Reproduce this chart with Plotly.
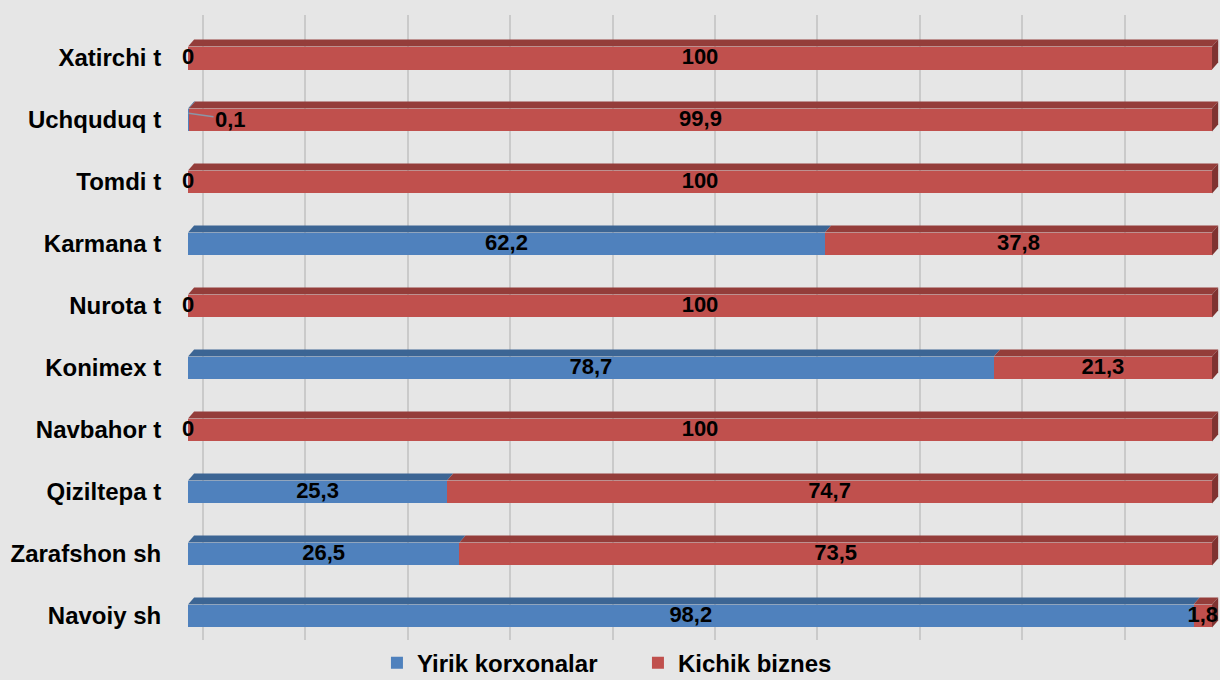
import plotly.graph_objects as go

categories = ["Navoiy sh", "Zarafshon sh", "Qiziltepa t", "Navbahor t", "Konimex t",
              "Nurota t", "Karmana t", "Tomdi t", "Uchquduq t", "Xatirchi t"]
yirik = [98.2, 26.5, 25.3, 0, 78.7, 0, 62.2, 0, 0.1, 0]
kichik = [1.8, 73.5, 74.7, 100, 21.3, 100, 37.8, 100, 99.9, 100]
series_names = ["Yirik korxonalar", "Kichik biznes"]

BLUE, BLUE_TOP = "#4F81BD", "#3C6594"
RED, RED_TOP = "#C0504D", "#943D3A"
BG = "#e6e6e6"
FONT = "Liberation Sans"

ypos = list(range(len(categories)))
H = 0.185      # half front-face height (y units)
D = 0.113      # depth (y units)
DX = 0.6       # depth (x units)


def fmt(v):
    return f"{v:g}".replace(".", ",")


fig = go.Figure()
fig.add_trace(go.Bar(y=ypos, x=yirik, orientation="h", name=series_names[0],
                     marker=dict(color=BLUE, line=dict(width=0)), width=2 * H,
                     hoverinfo="skip"))
fig.add_trace(go.Bar(y=ypos, x=kichik, orientation="h", name=series_names[1],
                     marker=dict(color=RED, line=dict(width=0)), width=2 * H,
                     hoverinfo="skip"))
# invisible trace for the shifted back-wall grid axis
fig.add_trace(go.Scatter(x=[0], y=[0], xaxis="x2", mode="markers",
                         marker=dict(opacity=0), showlegend=False, hoverinfo="skip"))

# 3D top faces and end caps
shapes = []
for i, (b, r) in enumerate(zip(yirik, kichik)):
    y = ypos[i]
    segs = [(0, b, BLUE_TOP), (b, b + r, RED_TOP)]
    for x0, x1, c in segs:
        if x1 - x0 <= 0:
            continue
        path = (f"M {x0},{y + H} L {x1},{y + H} L {x1 + DX},{y + H + D} "
                f"L {x0 + DX},{y + H + D} Z")
        shapes.append(dict(type="path", path=path, xref="x", yref="y",
                           fillcolor=c, line=dict(width=0), layer="between"))
    xe = b + r
    endc = "#7f3331" if r > 0 else "#2f5078"
    path = (f"M {xe},{y - H} L {xe + DX},{y - H + D} L {xe + DX},{y + H + D} "
            f"L {xe},{y + H} Z")
    shapes.append(dict(type="path", path=path, xref="x", yref="y",
                       fillcolor=endc, line=dict(width=0), layer="between"))

# data labels
lx, ly, lt = [], [], []
annotations = []
for i, (b, r) in enumerate(zip(yirik, kichik)):
    if b == 0:
        lx.append(0); ly.append(ypos[i]); lt.append(fmt(b))
    elif b < 1:
        annotations.append(dict(x=b / 2, y=ypos[i] + H * 0.6, xref="x", yref="y",
                                text=fmt(b), showarrow=True, arrowhead=0,
                                arrowcolor="#8a96a8", arrowwidth=1.5,
                                ax=42, ay=6,
                                font=dict(family=FONT, size=22, color="black",
                                          weight="bold")))
    else:
        lx.append(b / 2); ly.append(ypos[i]); lt.append(fmt(b))
    lx.append(b + r / 2); ly.append(ypos[i]); lt.append(fmt(r))

fig.add_trace(go.Scatter(x=lx, y=ly, text=lt, mode="text", textposition="middle center",
                         textfont=dict(family=FONT, size=22, color="black", weight="bold"),
                         cliponaxis=False, showlegend=False, hoverinfo="skip"))

XMAX = 100.78
SHIFT = 1.46
fig.update_layout(
    width=1220, height=680,
    barmode="stack",
    paper_bgcolor=BG, plot_bgcolor=BG,
    margin=dict(l=188, r=0, t=15, b=40, autoexpand=False),
    font=dict(family=FONT, color="black"),
    xaxis=dict(range=[0, XMAX], showgrid=False, zeroline=False, showticklabels=False,
               showline=False, fixedrange=True),
    xaxis2=dict(overlaying="x", anchor="y", range=[-SHIFT, XMAX - SHIFT],
                showgrid=True, gridcolor="#cacaca", gridwidth=1.5, dtick=10, tick0=0,
                zeroline=False, showticklabels=False, showline=False),
    yaxis=dict(range=[-0.387, 9.694], tickmode="array", tickvals=ypos, ticktext=categories,
               showgrid=False, zeroline=False, showline=False,
               ticks="outside", ticklen=21, tickcolor="rgba(0,0,0,0)",
               tickfont=dict(family=FONT, size=24, color="black", weight="bold")),
    legend=dict(orientation="h", x=0.436, xanchor="center", y=-0.037, yanchor="middle",
                traceorder="normal",
                font=dict(family=FONT, size=24, color="black", weight="bold"),
                bgcolor="rgba(0,0,0,0)", entrywidth=216, entrywidthmode="pixels"),
    shapes=shapes,
    annotations=annotations,
)

fig.write_html("out.html", config={"displayModeBar": False},
               post_script="document.body.style.margin='0';"
                           "document.body.style.overflow='hidden';")
